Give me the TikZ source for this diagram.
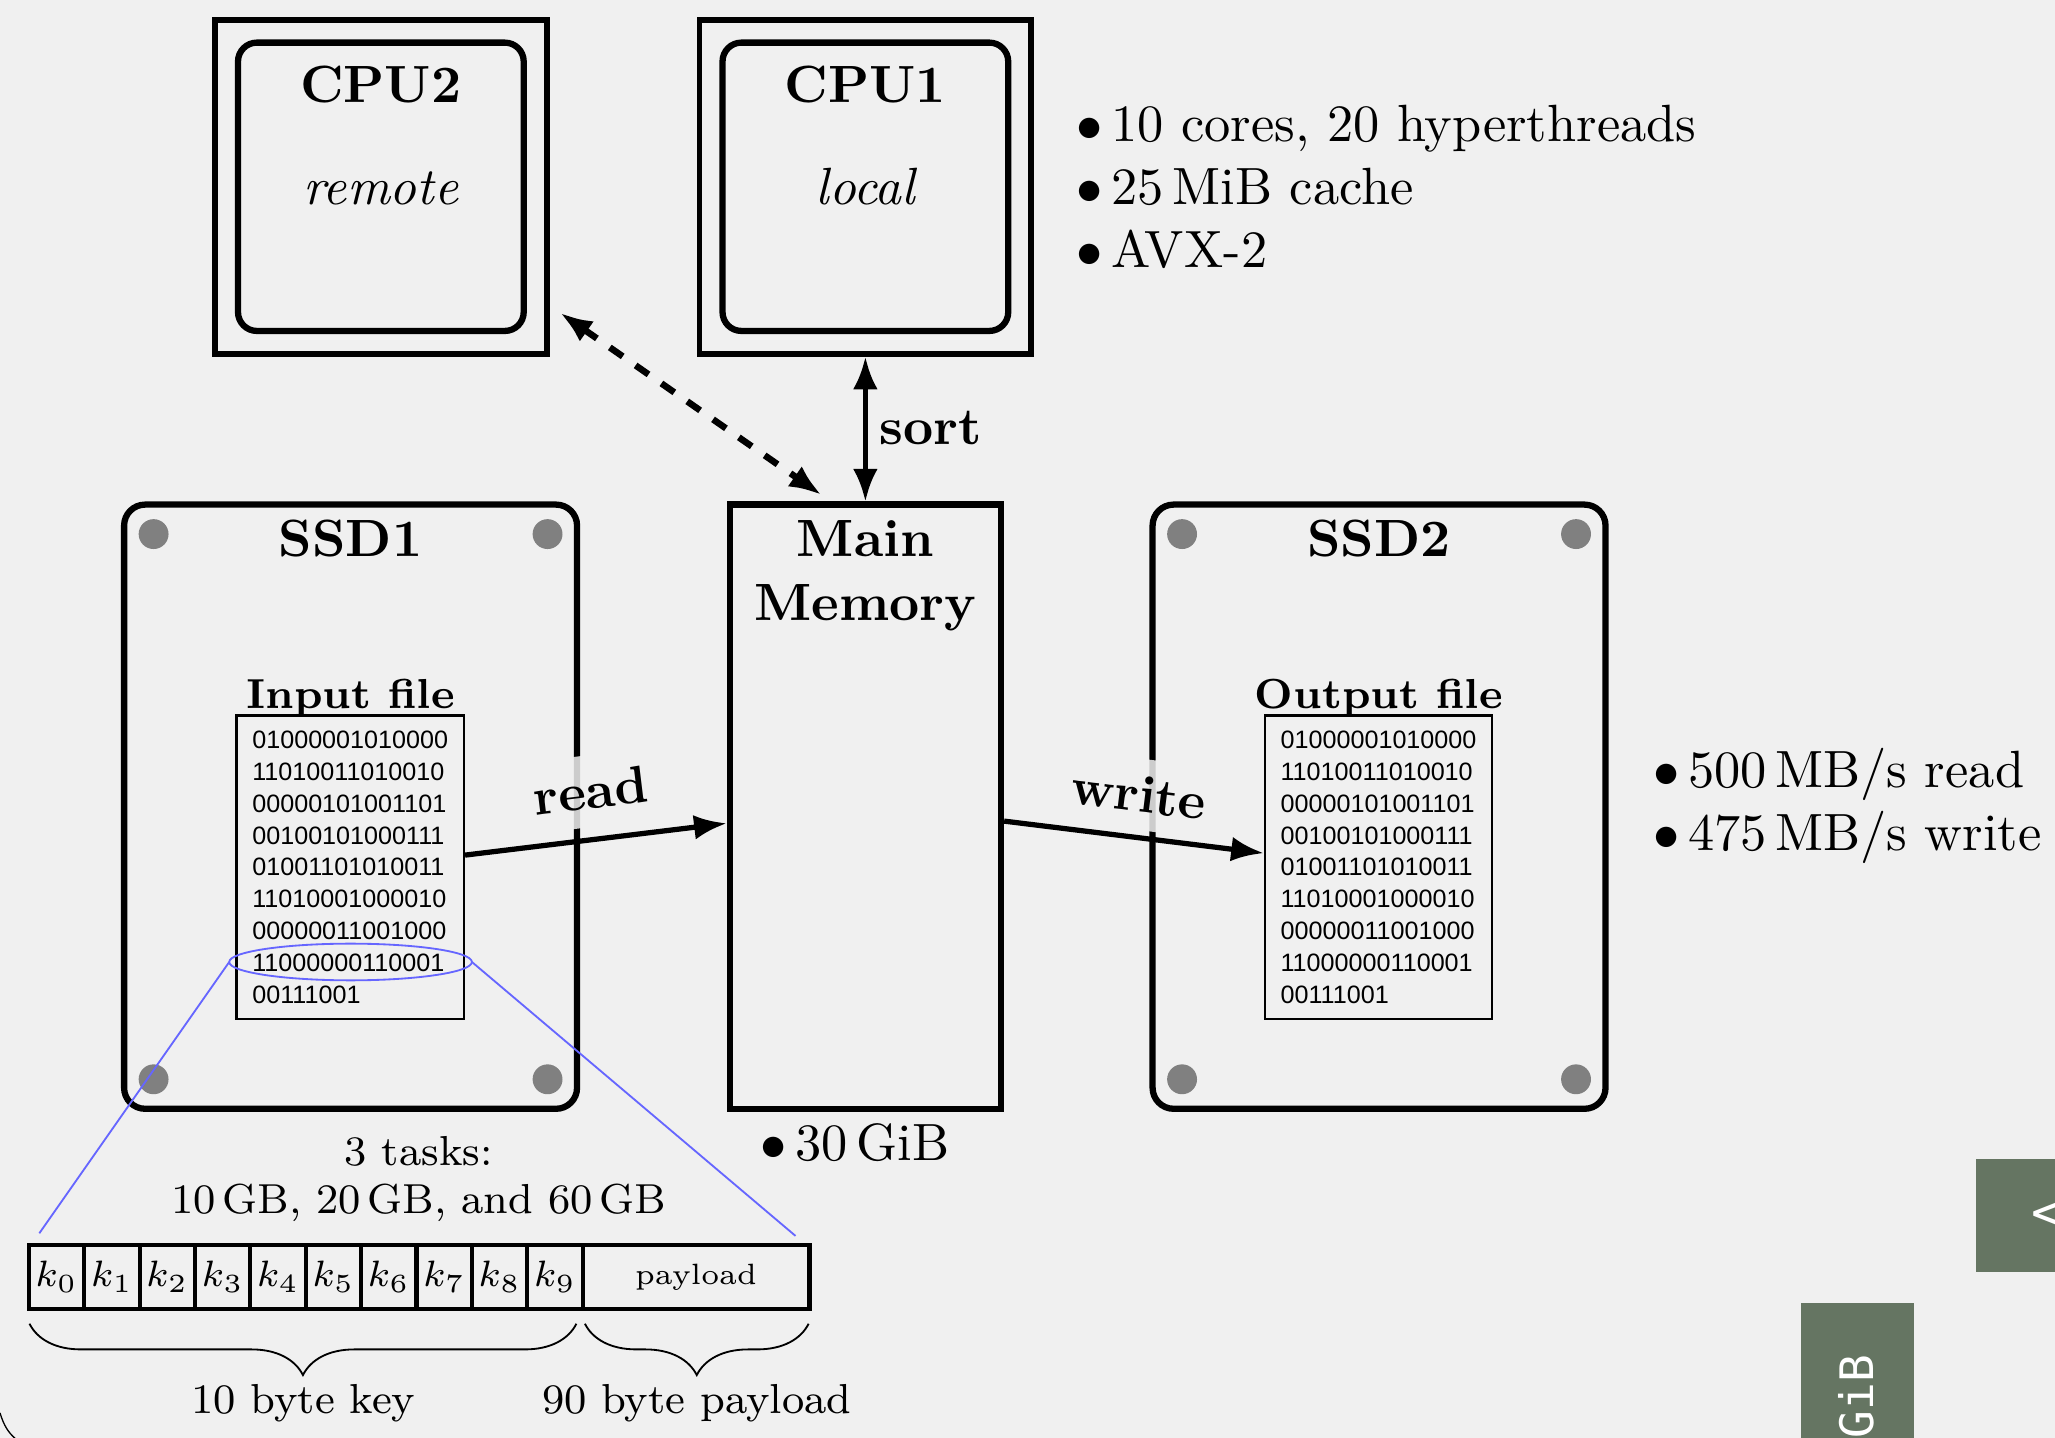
\documentclass[tikz,border=0pt]{standalone}
\usepackage{fontspec}
\newfontfamily\dvmono{DejaVu Sans Mono}
\newfontfamily\binfont{Liberation Sans}
\usetikzlibrary{arrows.meta,calc,decorations.pathreplacing,shapes.geometric}
\definecolor{bg}{RGB}{240,240,240}
\definecolor{slidegreen}{RGB}{101,117,98}
\definecolor{zoomblue}{RGB}{102,102,255}
\definecolor{dotgray}{RGB}{128,128,128}
\begin{document}
\begin{tikzpicture}[x=0.25pt,y=-0.25pt,
  >={Latex[length=6.2pt,width=4.7pt]},
  txt/.style={inner sep=0pt,outer sep=0pt,font=\fontsize{10}{12}\selectfont},
  bftxt/.style={inner sep=0pt,outer sep=0pt,font=\fontsize{10}{12}\selectfont\bfseries},
  smtxt/.style={inner sep=0pt,outer sep=0pt,font=\fontsize{8}{9.5}\selectfont},
  smbf/.style={inner sep=0pt,outer sep=0pt,font=\fontsize{8}{9.5}\selectfont\bfseries},
  cpuout/.style={draw,line width=1.1pt,minimum width=63.25pt,minimum height=63.75pt,inner sep=0pt},
  cpuin/.style={draw,rounded corners=3.6pt,line width=1.2pt,minimum width=54.5pt,minimum height=55pt,inner sep=0pt},
  ssdbox/.style={draw,rounded corners=4pt,line width=1.2pt,minimum width=86.4pt,minimum height=115.25pt,inner sep=0pt},
  membox/.style={draw,line width=1.2pt,minimum width=51.75pt,minimum height=115.25pt,inner sep=0pt},
  filebox/.style={draw,line width=0.4pt,minimum width=43.4pt,minimum height=57.9pt,inner sep=0pt,align=left,font=\binfont\fontsize{4.8}{6.07}\selectfont},
  cell/.style={draw,line width=0.8pt,minimum width=10.565pt,minimum height=12.125pt,inner sep=0pt,font=\fontsize{6.6}{8}\selectfont},
  edgelbl/.style={font=\fontsize{10}{12}\selectfont\bfseries,fill=bg,fill opacity=0.85,text opacity=1,inner sep=3.33pt},
  zoomline/.style={draw=zoomblue,line width=0.35pt},
  bracestyle/.style={decorate,decoration={brace,mirror,amplitude=9.8pt},line width=0.35pt},
  ssddot/.style={fill=dotgray}
]
\useasboundingbox (0,0) rectangle (1568,1097);
\clip (0,0) rectangle (1568,1097);
\fill[bg] (0,0) rectangle (1568,1097);

% CPUs
\node[cpuout] (cpu2) at (290.6,142.5) {};
\node[cpuin] (cpu2in) at (290.6,142.5) {};
\node[bftxt,anchor=base] (cpu2t) at (290.6,78.4) {CPU2};
\node[txt,anchor=base] (cpu2r) at (290.6,156) {\itshape remote};

\node[cpuout] (cpu1) at (660.3,142.5) {};
\node[cpuin] (cpu1in) at (660.3,142.5) {};
\node[bftxt,anchor=base] (cpu1t) at (660.3,78.4) {CPU1};
\node[txt,anchor=base] (cpu1r) at (660.3,156) {\itshape local};

\node[txt,anchor=base west] (c1) at (821.4,108.1) {$\bullet$\,10 cores, 20 hyperthreads};
\node[txt,anchor=base west] (c2) at (821.4,156.1) {$\bullet$\,25\,MiB cache};
\node[txt,anchor=base west] (c3) at (821.4,204.1) {$\bullet$\,AVX-2};

% SSD1
\node[ssdbox] (ssd1) at (267.5,615.5) {};
\foreach \dx/\dy in {-150.3/-208,150.3/-208,-150.3/208,150.3/208}
  \fill[ssddot] ($(ssd1.center)+(\dx,\dy)$) circle[radius=2.85pt];
\node[bftxt,anchor=base] (ssd1t) at (267.5,424.6) {SSD1};
\node[smbf,anchor=base] (inl) at (267.5,540.2) {Input file};
\node[filebox] (infile) at (267.25,661.75) {01000001010000\\11010011010010\\00000101001101\\00100101000111\\01001101010011\\11010001000010\\00000011001000\\11000000110001\\00111001};

% Memory
\node[membox] (mem) at (660.3,615.5) {};
\node[bftxt,anchor=base] (memt1) at (660.3,424.8) {Main};
\node[bftxt,anchor=base] (memt2) at (660.3,473.8) {Memory};
\node[txt,anchor=base west] (memsz) at (580.4,885.1) {$\bullet$\,30\,GiB};

% SSD2
\node[ssdbox] (ssd2) at (1052.25,615.5) {};
\foreach \dx/\dy in {-150.3/-208,150.3/-208,-150.3/208,150.3/208}
  \fill[ssddot] ($(ssd2.center)+(\dx,\dy)$) circle[radius=2.85pt];
\node[bftxt,anchor=base] (ssd2t) at (1052.25,424.6) {SSD2};
\node[smbf,anchor=base] (outl) at (1052,540.2) {Output file};
\node[filebox] (outfile) at (1051.85,661.75) {01000001010000\\11010011010010\\00000101001101\\00100101000111\\01001101010011\\11010001000010\\00000011001000\\11000000110001\\00111001};

\node[txt,anchor=base west] (r1) at (1261.4,600.5) {$\bullet$\,500\,MB/s read};
\node[txt,anchor=base west] (r2) at (1261.4,648.8) {$\bullet$\,475\,MB/s write};

% connectors
\draw[<->,line width=1pt] (cpu1.south) -- (mem.north);
\node[bftxt,anchor=base west] (sortl) at (671,339) {sort};
\draw[<->,dashed,line width=1.25pt] ($(cpu2.south east)+(8,-33.6)$) -- ($(mem.north)+(-33.4,-4.9)$);
\draw[->,line width=1pt] ($(infile.east)+(0,-9.3)$) -- ($(mem.west)+(0,12.7)$);
\node[edgelbl,rotate=6.95] (readl) at (450.8,603.5) {read};
\draw[->,line width=1pt] ($(mem.east)+(0,11)$) -- ($(outfile.west)+(0,-10.8)$);
\node[edgelbl,rotate=-7.06] (writel) at (869,606) {write};

% zoom to record
\node[ellipse,draw=zoomblue,line width=0.35pt,minimum width=46.3pt,minimum height=7pt,inner sep=0pt,outer sep=0pt] (zoomell) at (267.5,734) {};
\coordinate (zl) at (30,941);
\coordinate (zr) at (607,943);
\draw[zoomline] (zoomell.west) -- (zl);
\draw[zoomline] (zoomell.east) -- (zr);

\node[smtxt,anchor=base] (tasks1) at (319.5,888.9) {3 tasks:};
\node[smtxt,anchor=base] (tasks2) at (319.5,925.8) {10\,GB, 20\,GB, and 60\,GB};

\foreach \i in {0,...,9}
  \node[cell] (k\i) at ({22+42.26*(\i+0.5)},974.25) {$k_{\i}$};
\node[cell,minimum width=43.25pt,font=\fontsize{5.6}{7}\selectfont] (pay) at (531.1,974.25) {payload};

\coordinate (bk1) at (22.5,1010);
\coordinate (bk2) at (439.8,1010);
\coordinate (bp1) at (446.3,1010);
\coordinate (bp2) at (617,1010);
\draw[bracestyle] (bk1) -- (bk2);
\draw[bracestyle] (bp1) -- (bp2);
\node[smtxt,anchor=base] (keylbl) at (231.5,1078.4) {10 byte key};
\node[smtxt,anchor=base] (paylbl) at (531.6,1078.4) {90 byte payload};

% slide artefacts
\fill[slidegreen] (1507.4,884.5) rectangle (1580,970.6);
\node[anchor=west,text=white,inner sep=0pt,font=\dvmono\fontsize{10}{12}\selectfont] (navl) at (1549,928) {<};
\fill[slidegreen] (1374,994) rectangle (1460.5,1110);
\node[rotate=90,anchor=base west,text=white,inner sep=0pt,font=\dvmono\fontsize{8.8}{10}\selectfont] (navt) at (1429.4,1098) {GiB};
\draw[line width=0.25pt] (0,1078) .. controls (3,1088) and (6.5,1093) .. (11.5,1097.5);
\end{tikzpicture}
\end{document}
